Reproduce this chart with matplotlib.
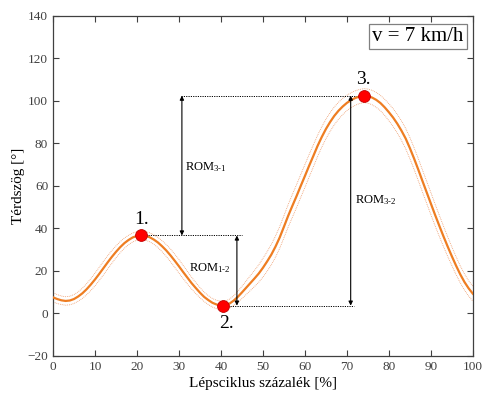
import matplotlib
matplotlib.use("Agg")
import matplotlib.pyplot as plt
import numpy as np

plt.rcParams['font.family'] = ['Liberation Serif', 'DejaVu Serif']
plt.rcParams['mathtext.fontset'] = 'custom'
plt.rcParams['mathtext.rm'] = 'Liberation Serif'
plt.rcParams['mathtext.it'] = 'Liberation Serif:italic'

# Gait cycle percentage (0..100 step 1) and mean knee angle (deg)
cycle_pct = list(range(0, 101))
knee_mean = [7.6, 6.8, 6.2, 5.9, 6.1, 6.8, 8.0, 9.5, 11.4, 13.6, 16.0,
             18.6, 21.3, 24.0, 26.6, 29.0, 31.2, 33.1, 34.6, 35.8, 36.5,
             36.7, 36.5, 35.9, 34.8, 33.4, 31.6, 29.6, 27.3, 24.8, 22.2,
             19.5, 16.9, 14.3, 12.0, 9.8, 7.8, 6.3, 5.0, 4.2, 3.8,
             3.8, 4.6, 6.0, 7.8, 9.9, 12.1, 14.3, 16.5, 18.8, 21.5,
             24.5, 27.7, 31.5, 35.8, 40.8, 45.9, 50.6, 55.2, 60.0, 64.7,
             69.5, 74.1, 78.8, 83.0, 86.8, 90.1, 93.0, 95.4, 97.4, 99.1,
             100.4, 101.4, 102.1, 102.5, 102.3, 101.6, 100.5, 99.0, 97.0, 94.7,
             92.2, 89.3, 86.0, 82.3, 77.8, 72.9, 67.7, 62.3, 57.0, 51.7,
             46.4, 41.3, 36.3, 31.5, 26.9, 22.5, 18.4, 14.8, 11.8, 9.3]
knee_sd = [2.2, 2.1, 2.0, 2.0, 2.0, 2.1, 2.2, 2.4, 2.6, 2.8, 3.0,
           3.1, 3.2, 3.1, 3.0, 2.8, 2.6, 2.4, 2.2, 2.1, 2.0,
           2.0, 2.0, 2.1, 2.2, 2.4, 2.6, 2.8, 3.0, 3.1, 3.2,
           3.1, 3.0, 2.8, 2.6, 2.4, 2.2, 2.1, 2.0, 2.0, 2.0,
           2.0, 2.1, 2.3, 2.6, 2.9, 3.2, 3.5, 3.8, 4.1, 4.4,
           4.6, 4.8, 5.0, 5.1, 5.2, 5.3, 5.4, 5.4, 5.4, 5.4,
           5.3, 5.2, 5.0, 4.8, 4.6, 4.4, 4.2, 4.0, 3.8, 3.6,
           3.5, 3.4, 3.3, 3.3, 3.3, 3.4, 3.5, 3.6, 3.8, 4.0,
           4.2, 4.4, 4.6, 4.8, 5.0, 5.1, 5.2, 5.2, 5.2, 5.2,
           5.1, 5.0, 4.8, 4.6, 4.4, 4.2, 4.0, 3.8, 3.6, 3.5]

# Key points
pt_x = [21, 40.5, 74]
pt_y = [36.7, 3.7, 102.5]
pt_labels = ['1.', '2.', '3.']
speed_label = 'v = 7 km/h'

x = np.array(cycle_pct)
m = np.array(knee_mean)
s = np.array(knee_sd)

fig = plt.figure(figsize=(4.84, 3.99), dpi=100)
ax = fig.add_axes([0.1095, 0.1078, 0.8675, 0.8522])

band_c = '#EE9A6A'
ax.plot(x, m + s, color=band_c, lw=0.6, ls=(0, (1, 1.2)))
ax.plot(x, m - s, color=band_c, lw=0.6, ls=(0, (1, 1.2)))
ax.plot(x, m, color='#EE7D22', lw=1.6, zorder=3)

# reference dotted lines
dl = dict(color='black', lw=0.7, ls=(0, (1.2, 1.2)))
ax.plot([30.5, pt_x[2]], [pt_y[2], pt_y[2]], **dl)
ax.plot([pt_x[0], 45], [pt_y[0], pt_y[0]], **dl)
ax.plot([pt_x[1], 71.8], [pt_y[1], pt_y[1]], **dl)

ap = dict(arrowstyle='<|-|>', color='black', lw=0.8, mutation_scale=6, shrinkA=0, shrinkB=0)
ax.annotate('', xy=(30.7, pt_y[2]), xytext=(30.7, pt_y[0]), arrowprops=ap)
ax.annotate('', xy=(43.8, pt_y[0]), xytext=(43.8, pt_y[1]), arrowprops=ap)
ax.annotate('', xy=(70.9, pt_y[2]), xytext=(70.9, pt_y[1]), arrowprops=ap)

ax.text(31.5, 69, r'ROM$_{\mathregular{3\text{-}1}}$', fontsize=9, va='center', ha='left')
ax.text(32.5, 21.5, r'ROM$_{\mathregular{1\text{-}2}}$', fontsize=9, va='center', ha='left')
ax.text(71.9, 53.5, r'ROM$_{\mathregular{3\text{-}2}}$', fontsize=9, va='center', ha='left')

ax.plot(pt_x, pt_y, 'o', color='#FF0000', mec='#C00000', mew=0.6, ms=8.5, zorder=5)
ax.text(pt_x[0], 40.0, pt_labels[0], fontsize=14, ha='center', va='bottom')
ax.text(pt_x[1] + 0.8, -0.5, pt_labels[1], fontsize=14, ha='center', va='top')
ax.text(pt_x[2], 106.0, pt_labels[2], fontsize=14, ha='center', va='bottom')

ax.text(97.8, 130.4, speed_label, fontsize=15, ha='right', va='center',
        bbox=dict(boxstyle='square,pad=0.15', fc='white', ec='#808080', lw=0.9))

ax.set_xlim(0, 100)
ax.set_ylim(-20, 140)
ax.set_xticks(range(0, 101, 10))
ax.set_yticks(range(-20, 141, 20))
ax.tick_params(direction='in', top=True, right=True, labelsize=9.5, colors='#404040',
               length=4, width=0.8)
for sp in ax.spines.values():
    sp.set_color('#404040')
    sp.set_linewidth(0.9)
ax.set_xlabel('Lépsciklus százalék [%]', fontsize=11, labelpad=3)
ax.set_ylabel('Térdszög [°]', fontsize=11, labelpad=2)

fig.savefig('out.png', dpi=100)
